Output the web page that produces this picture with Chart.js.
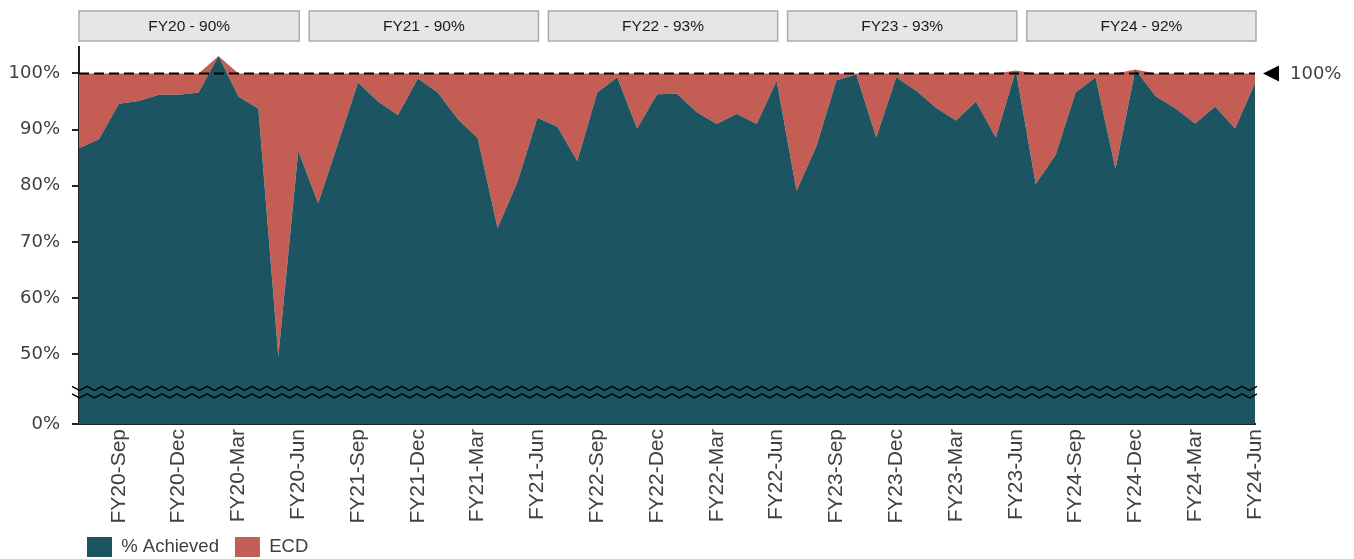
<!DOCTYPE html>
<html>
<head>
<meta charset="utf-8">
<script src="https://cdn.jsdelivr.net/npm/chart.js@4.4.0/dist/chart.umd.min.js"></script>
<style>
  html, body { margin: 0; padding: 0; background: #fff; }
  #wrap { width: 1354px; height: 559px; }
</style>
</head>
<body>
<div id="wrap"><canvas id="ecdChart" width="1354" height="559"></canvas></div>
<script>
    // categories
    const fiscalYears = ['FY20', 'FY21', 'FY22', 'FY23', 'FY24'];
    const months = ['Jul', 'Aug', 'Sep', 'Oct', 'Nov', 'Dec', 'Jan', 'Feb', 'Mar', 'Apr', 'May', 'Jun'];
    const yearLabels = ['FY20 - 90%', 'FY21 - 90%', 'FY22 - 93%', 'FY23 - 93%', 'FY24 - 92%'];

    // series (% achieved, ECD stacked on top)
    const achieved = [
      86.7, 88.3, 94.6, 95.1, 96.2, 96.2, 96.6, 103.1, 95.9, 93.7, 49.6, 86.2,
      76.9, 87.6, 98.4, 95.0, 92.6, 99.1, 96.6, 91.9, 88.5, 72.5, 80.7, 92.1,
      90.5, 84.4, 96.6, 99.3, 90.2, 96.3, 96.4, 93.1, 91.0, 92.8, 91.0, 98.7,
      79.1, 87.1, 98.8, 99.8, 88.6, 99.3, 96.9, 93.9, 91.6, 95.0, 88.6, 100.5,
      80.3, 85.5, 96.6, 99.3, 83.0, 100.7, 96.0, 93.8, 91.1, 94.1, 90.2, 98.3
    ];
    const ecd = [
      13.3, 11.7, 5.4, 4.9, 3.8, 3.8, 3.4, 0, 4.1, 6.3, 50.4, 13.8,
      23.1, 12.4, 1.6, 5.0, 7.4, 0.9, 3.4, 8.1, 11.5, 27.5, 19.3, 7.9,
      9.5, 15.6, 3.4, 0.7, 9.8, 3.7, 3.6, 6.9, 9.0, 7.2, 9.0, 1.3,
      20.9, 12.9, 1.2, 0.2, 11.4, 0.7, 3.1, 6.1, 8.4, 5.0, 11.4, 0,
      19.7, 14.5, 3.4, 0.7, 17.0, 0, 4.0, 6.2, 8.9, 5.9, 9.8, 1.7
    ];

    // y axis is broken: bottom tick stands for 0%
    const tickValues = [37.6, 50, 60, 70, 80, 90, 100];
    const tickLabels = ['0%', '50%', '60%', '70%', '80%', '90%', '100%'];
    const breakValues = [43.95, 42.6];
    const target = 100;

    const labels = [];
    fiscalYears.forEach(fy => months.forEach(m => labels.push(fy + '-' + m)));

    const TEAL = '#1c5561';
    const RED = '#c45e55';

    const overlay = {
      id: 'overlay',
      afterLayout(chart) {
        // legend sits under the plot, starting near the y axis
        chart.legend.left = 71;
        chart.legend.top = 521;
      },
      afterDatasetsDraw(chart) {
        const { ctx, chartArea: a, scales: { x, y } } = chart;
        ctx.save();

        // target line
        const ty = y.getPixelForValue(target);
        ctx.strokeStyle = '#000';
        ctx.lineWidth = 2;
        ctx.setLineDash([10, 5]);
        ctx.beginPath();
        ctx.moveTo(a.left, ty);
        ctx.lineTo(a.right, ty);
        ctx.stroke();
        ctx.setLineDash([]);

        // target marker
        ctx.fillStyle = '#000';
        ctx.beginPath();
        ctx.moveTo(a.right + 8, ty);
        ctx.lineTo(a.right + 24, ty - 8);
        ctx.lineTo(a.right + 24, ty + 8);
        ctx.closePath();
        ctx.fill();
        ctx.fillStyle = '#404040';
        ctx.font = '18px "DejaVu Sans"';
        ctx.textBaseline = 'middle';
        ctx.textAlign = 'left';
        ctx.fillText(tickLabels[tickLabels.length - 1], a.right + 35, ty + 1);

        // axis break
        ctx.strokeStyle = '#000';
        ctx.lineWidth = 1.5;
        breakValues.forEach(v => {
          const by = y.getPixelForValue(v);
          ctx.beginPath();
          let up = true;
          for (let px = a.left - 7; px <= a.right + 7; px += 7.5) {
            const py = by + (up ? -2 : 2);
            if (px === a.left - 7) ctx.moveTo(px, py); else ctx.lineTo(px, py);
            up = !up;
          }
          ctx.stroke();
        });

        // fiscal year header boxes
        ctx.font = '15.5px "Liberation Sans"';
        ctx.textAlign = 'center';
        yearLabels.forEach((t, i) => {
          const l = i === 0 ? x.getPixelForValue(0) : x.getPixelForValue(12 * i - 0.5) + 1;
          const r = x.getPixelForValue(12 * i + 11) + 1;
          ctx.fillStyle = '#e6e6e6';
          ctx.fillRect(l, 11, r - l, 30);
          ctx.strokeStyle = '#ababab';
          ctx.lineWidth = 1.5;
          ctx.strokeRect(l, 11, r - l, 30);
          ctx.fillStyle = '#1a1a1a';
          ctx.fillText(t, (l + r) / 2, 27);
        });
        ctx.restore();
      }
    };

    new Chart(document.getElementById('ecdChart'), {
      type: 'line',
      data: {
        labels: labels,
        datasets: [
          {
            label: '% Achieved',
            data: achieved,
            backgroundColor: TEAL,
            borderColor: TEAL,
            borderWidth: 0,
            pointRadius: 0,
            tension: 0,
            fill: 'start'
          },
          {
            label: 'ECD',
            data: ecd,
            backgroundColor: RED,
            borderColor: RED,
            borderWidth: 0,
            pointRadius: 0,
            tension: 0,
            fill: '-1'
          }
        ]
      },
      options: {
        responsive: false,
        animation: false,
        layout: { padding: { top: 47, right: 99, left: 0, bottom: -16 } },
        plugins: {
          tooltip: { enabled: false },
          legend: {
            position: 'bottom',
            align: 'start',
            labels: {
              boxWidth: 25,
              boxHeight: 20,
              padding: 16,
              color: '#404040',
              font: { family: 'Liberation Sans', size: 18.5 }
            }
          }
        },
        scales: {
          x: {
            stacked: true,
            offset: false,
            grid: { display: false, drawTicks: false, tickLength: 0 },
            border: { display: true, color: '#222', width: 2 },
            afterFit(scale) { scale.height = 105; },
            ticks: {
              autoSkip: false,
              minRotation: 90,
              maxRotation: 90,
              padding: 5,
              color: '#404040',
              font: { family: 'Liberation Sans', size: 21 },
              callback(v, i) { return i % 3 === 2 ? labels[i] : ''; }
            }
          },
          y: {
            stacked: true,
            min: 37.6,
            max: 104.7,
            afterFit(scale) { scale.width = 79; },
            afterBuildTicks(scale) { scale.ticks = tickValues.map(v => ({ value: v })); },
            grid: { drawOnChartArea: false, drawTicks: true, tickLength: 7, color: '#222', lineWidth: 2 },
            border: { display: true, color: '#222', width: 2 },
            ticks: {
              padding: 12,
              color: '#404040',
              font: { family: 'DejaVu Sans', size: 18 },
              callback(v) { return tickLabels[tickValues.indexOf(v)]; }
            }
          }
        }
      },
      plugins: [overlay]
    });
</script>
</body>
</html>
